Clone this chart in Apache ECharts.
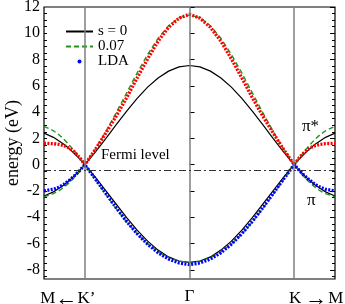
<!DOCTYPE html>
<html><head><meta charset="utf-8">
<script src="https://cdn.jsdelivr.net/npm/echarts@6/dist/echarts.min.js"></script>
<style>html,body{margin:0;padding:0;background:#fff}#c{width:345px;height:304px}</style>
</head><body><div id="c"></div>
<script>
// k-path coordinate: K' = -1, Gamma = 0, K = 1, ends toward M
const kPath = [-1.39,-1.3,-1.25,-1.2,-1.15,-1.1,-1.05,-1,-0.9,-0.8,-0.7,-0.6,-0.5,-0.4,-0.3,-0.2,-0.1,0,0.1,0.2,0.3,0.4,0.5,0.6,0.7,0.8,0.9,1,1.05,1.1,1.15,1.2,1.25,1.3,1.39];
const s0Upper = [2.4,2.08,1.83,1.55,1.22,0.85,0.44,0,0.96,1.99,3.04,4.08,5.04,5.9,6.6,7.12,7.44,7.55,7.44,7.12,6.6,5.9,5.04,4.08,3.04,1.99,0.96,0,0.44,0.85,1.22,1.55,1.83,2.08,2.4];
const s0Lower = [-2.38,-2.07,-1.82,-1.54,-1.21,-0.85,-0.44,0,-0.95,-1.97,-3.0,-4.03,-4.98,-5.82,-6.5,-7.02,-7.33,-7.44,-7.33,-7.02,-6.5,-5.82,-4.98,-4.03,-3.0,-1.97,-0.95,0,-0.44,-0.85,-1.21,-1.54,-1.82,-2.07,-2.38];
const s07Upper = [2.92,2.58,2.3,1.94,1.51,1.04,0.53,0,1.18,2.51,3.96,5.47,6.98,8.39,9.62,10.57,11.18,11.39,11.18,10.57,9.62,8.39,6.98,5.47,3.96,2.51,1.18,0,0.53,1.04,1.51,1.94,2.3,2.58,2.92];
const s07Lower = [-2.45,-2.2,-2.0,-1.72,-1.38,-0.98,-0.52,0,-1.12,-2.25,-3.34,-4.36,-5.26,-6.03,-6.64,-7.08,-7.35,-7.44,-7.35,-7.08,-6.64,-6.03,-5.26,-4.36,-3.34,-2.25,-1.12,0,-0.52,-0.98,-1.38,-1.72,-2.0,-2.2,-2.45];
const ldaPiStar = [1.63,1.6,1.55,1.45,1.27,0.98,0.55,0,1.15,2.4,3.7,5.1,6.6,8.05,9.4,10.45,11.15,11.45,11.15,10.45,9.4,8.05,6.6,5.1,3.7,2.4,1.15,0,0.55,0.98,1.27,1.45,1.55,1.6,1.63];
const ldaPi = [-2.0,-1.87,-1.72,-1.5,-1.2,-0.85,-0.45,0,-1.08,-2.18,-3.28,-4.32,-5.25,-6.05,-6.7,-7.18,-7.48,-7.6,-7.48,-7.18,-6.7,-6.05,-5.25,-4.32,-3.28,-2.18,-1.08,0,-0.45,-0.85,-1.2,-1.5,-1.72,-1.87,-2.0];
const fermiLevel = -0.4;
const symPoints = [-1, 0, 1];
const yTicks = [-8,-6,-4,-2,0,2,4,6,8,10,12];
const yMinorTicks = [-8.5,-8,-7.5,-7,-6.5,-6,-5.5,-5,-4.5,-4,-3.5,-3,-2.5,-2,-1.5,-1,-0.5,0,0.5,1,1.5,2,2.5,3,3.5,4,4.5,5,5.5,6,6.5,7,7.5,8,8.5,9,9.5,10,10.5,11,11.5];

const SERIF = "'Liberation Serif','Times New Roman',serif";
const zip = ys => kPath.map((x, i) => [x, ys[i]]);

const chart = echarts.init(document.getElementById('c'), null, {renderer: 'canvas'});
const ySide = (pos, ticks, len, labels) => ({
  type: 'value', position: pos, min: -8.7, max: 12, gridIndex: 0,
  axisLine: {show: false},
  axisTick: {show: true, inside: true, length: len, customValues: ticks, lineStyle: {color: '#000', width: 1}},
  axisLabel: labels ? {show: true, customValues: yTicks, fontFamily: SERIF, fontSize: 16, color: '#000', margin: 4} : {show: false},
  splitLine: {show: false}
});
const yMain = ySide('left', yTicks, 5, true);
yMain.name = 'energy (eV)';
yMain.nameLocation = 'middle';
yMain.nameGap = 22;
yMain.nameMoveOverlap = false;
yMain.nameTextStyle = {fontFamily: SERIF, fontSize: 18, color: '#000'};

const txt = {fontFamily: SERIF, fontSize: 17, color: '#000', verticalAlign: 'middle'};
const arr = {fontFamily: SERIF, fontSize: 22, color: '#000', verticalAlign: 'middle'};

chart.setOption({
  animation: false,
  grid: {left: 44, right: 10, top: 7, bottom: 25, outerBoundsMode: 'none', containLabel: false,
         show: true, borderColor: '#000', borderWidth: 1.2, backgroundColor: 'transparent'},
  xAxis: {
    type: 'value', min: -1.39, max: 1.39,
    axisLine: {show: false}, axisTick: {show: false}, splitLine: {show: false},
    axisLabel: {
      customValues: symPoints, margin: 9, color: '#000', fontFamily: SERIF, fontSize: 17,
      formatter: v => v < -0.5 ? '{t|M}{a|←}{kl|K’}' : (v > 0.5 ? '{kr|K}{ar|→}{t|M}' : '{t|Γ}'),
      rich: {
        t: txt,
        a: Object.assign({}, arr, {padding: [0, 0, 0, 0]}),
        ar: Object.assign({}, arr, {padding: [0, 1, 0, 4]}),
        kl: Object.assign({}, txt, {padding: [0, 34, 0, 0]}),
        kr: Object.assign({}, txt, {padding: [0, 0, 0, 44]})
      }
    }
  },
  yAxis: [yMain, ySide('left', yMinorTicks, 3, false), ySide('right', yTicks, 5, false), ySide('right', yMinorTicks, 3, false)],
  legend: {
    left: 65, top: 24, padding: 0, orient: 'vertical', itemWidth: 27, itemHeight: 4, itemGap: 0,
    textStyle: {fontFamily: SERIF, fontSize: 15, lineHeight: 15, color: '#000'},
    data: [
      {name: 's = 0', itemStyle: {opacity: 0}},
      {name: '0.07', itemStyle: {opacity: 0}},
      {name: 'LDA', icon: 'circle', itemStyle: {color: '#0000ff', opacity: 1}}
    ]
  },
  graphic: [
    {type: 'text', left: 101, top: 148, style: {text: 'Fermi level', font: '15px ' + SERIF, fill: '#000'}},
    {type: 'text', left: 302, top: 118, style: {text: 'π*', font: '17px ' + SERIF, fill: '#000'}},
    {type: 'text', left: 307, top: 192, style: {text: 'π', font: '17px ' + SERIF, fill: '#000'}}
  ],
  series: [
    {type: 'line', name: 'guides', data: [], silent: true,
     markLine: {silent: true, symbol: ['none', 'none'], label: {show: false},
       data: [
         ...symPoints.map(x => ({xAxis: x, lineStyle: {color: '#7f7f7f', width: 1.5, type: 'solid'}})),
         {yAxis: fermiLevel, lineStyle: {color: '#333', width: 1, type: [7, 3, 2, 3]}}
       ]}},
    {type: 'line', name: 's = 0', data: zip(s0Upper), symbol: 'none', lineStyle: {color: '#000', width: 1.2}, itemStyle: {color: '#000'}},
    {type: 'line', name: 's = 0', data: zip(s0Lower), symbol: 'none', lineStyle: {color: '#000', width: 1.2}, itemStyle: {color: '#000'}},
    {type: 'line', name: '0.07', data: zip(s07Upper), symbol: 'none', lineStyle: {color: '#1e961e', width: 1.4, type: [5, 3]}, itemStyle: {color: '#1e961e'}},
    {type: 'line', name: '0.07', data: zip(s07Lower), symbol: 'none', lineStyle: {color: '#1e961e', width: 1.4, type: [5, 3]}, itemStyle: {color: '#1e961e'}},
    {type: 'line', name: 'LDA pi*', data: zip(ldaPiStar), symbol: 'none', lineStyle: {color: '#ff0000', width: 3.3, type: [2, 1.4], cap: 'butt'}, itemStyle: {color: '#ff0000'}},
    {type: 'line', name: 'LDA', data: zip(ldaPi), symbol: 'none', lineStyle: {color: '#0000ff', width: 3.3, type: [2, 1.4], cap: 'butt'}, itemStyle: {color: '#0000ff'}}
  ]
});
</script></body></html>
